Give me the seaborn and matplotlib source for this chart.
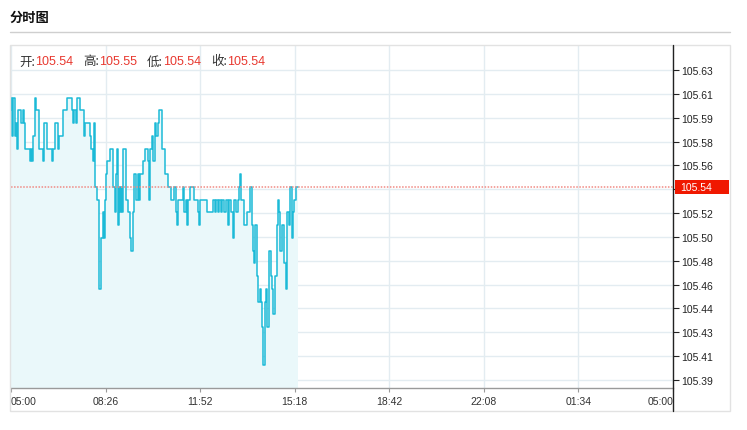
import matplotlib
matplotlib.use('Agg')
import numpy as np
import pandas as pd
import matplotlib.pyplot as plt
import seaborn as sns
from matplotlib.patches import Rectangle
from matplotlib.lines import Line2D

# ── data ─────────────────────────────────────────────────────
# minutes after 05:00, last price
minutes = [0, 1, 3, 5, 8, 9, 11, 13, 15, 16, 22, 26, 28, 30, 41, 43, 46, 48, 52, 54,
           61, 70, 72, 78, 89, 91, 96, 102, 104, 113, 122, 133, 135, 137, 141, 144, 150,
           159, 161, 172, 174, 178, 181, 183, 187, 191, 196, 200, 202, 204, 207, 209,
           215, 222, 226, 228, 231, 233, 235, 237, 239, 241, 244, 250, 254, 259, 261,
           265, 268, 272, 276, 278, 281, 287, 291, 298, 300, 302, 307, 309, 313, 315,
           320, 322, 328, 335, 341, 348, 354, 359, 361, 363, 374, 376, 381, 383, 385,
           389, 398, 407, 409, 411, 426, 439, 444, 446, 450, 452, 457, 459, 463, 467,
           472, 474, 479, 483, 485, 489, 494, 496, 498, 500, 507, 513, 520, 524, 526,
           529, 531, 535, 537, 542, 544, 546, 548, 553, 555, 557, 561, 566, 568, 570,
           574, 579, 581, 583, 585, 590, 594, 598, 600, 605, 607, 611, 613, 616, 620, 624]
prices = [105.60, 105.61, 105.58, 105.61, 105.59, 105.58, 105.59, 105.57, 105.59, 105.60,
          105.59, 105.60, 105.59, 105.57, 105.56, 105.57, 105.56, 105.58, 105.61, 105.60,
          105.57, 105.56, 105.59, 105.57, 105.56, 105.57, 105.59, 105.57, 105.58, 105.60,
          105.61, 105.60, 105.59, 105.60, 105.59, 105.61, 105.60, 105.58, 105.59, 105.58,
          105.57, 105.56, 105.59, 105.54, 105.53, 105.46, 105.50, 105.52, 105.50, 105.53,
          105.55, 105.56, 105.57, 105.54, 105.52, 105.55, 105.57, 105.51, 105.54, 105.52,
          105.54, 105.52, 105.57, 105.53, 105.52, 105.50, 105.49, 105.52, 105.55, 105.53,
          105.55, 105.53, 105.55, 105.56, 105.57, 105.56, 105.53, 105.57, 105.58, 105.56,
          105.59, 105.58, 105.59, 105.60, 105.57, 105.55, 105.54, 105.53, 105.54, 105.52,
          105.51, 105.53, 105.54, 105.52, 105.53, 105.51, 105.53, 105.54, 105.53, 105.52,
          105.51, 105.53, 105.52, 105.53, 105.52, 105.53, 105.52, 105.53, 105.52, 105.53,
          105.52, 105.53, 105.51, 105.53, 105.52, 105.50, 105.53, 105.52, 105.53, 105.54,
          105.55, 105.53, 105.51, 105.52, 105.54, 105.51, 105.49, 105.48, 105.51, 105.47,
          105.45, 105.46, 105.45, 105.43, 105.40, 105.45, 105.46, 105.43, 105.49, 105.47,
          105.46, 105.44, 105.47, 105.51, 105.53, 105.52, 105.49, 105.51, 105.48, 105.46,
          105.52, 105.51, 105.54, 105.50, 105.52, 105.53, 105.54, 105.54]

last_price = 105.54
ohlc_names = ['开:', '高:', '低:', '收:']
ohlc_values = ['105.54', '105.55', '105.54', '105.54']

x_labels = ['05:00', '08:26', '11:52', '15:18', '18:42', '22:08', '01:34', '05:00']
y_tick_values = [105.3885, 105.4072, 105.4259, 105.4446, 105.4633, 105.4820, 105.5007,
                 105.5194, 105.5381, 105.5568, 105.5755, 105.5942, 105.6129, 105.6316]
y_labels = ['105.39', '105.41', '105.43', '105.44', '105.46', '105.48', '105.50',
            '105.52', '105.54', '105.56', '105.58', '105.59', '105.61', '105.63']

df = pd.DataFrame({'minute': minutes, 'price': prices})

# ── style ────────────────────────────────────────────────────
sns.set_style('white')
plt.rcParams['font.family'] = ['Liberation Sans', 'Noto Sans CJK SC']

W, H = 747, 431
fig = plt.figure(figsize=(W / 100, H / 100), dpi=100)
fig.patch.set_facecolor('white')

def fx(px):
    return px / W

def fy(py):
    return 1 - py / H

# header
fig.text(fx(10), fy(18), '分时图', fontsize=9.5, fontweight='bold', va='center',
         ha='left', family=['Noto Sans CJK SC'], color='#111111')
fig.add_artist(Line2D([fx(10), fx(730)], [fy(33), fy(33)], color='#cfcfcf', lw=1))

# outer frame
fig.add_artist(Rectangle((fx(10), fy(412)), fx(720), (412 - 46) / H,
                         fill=False, edgecolor='#e2e2e2', lw=1))

ymin, ymax = 105.3822, 105.6512
ax = fig.add_axes([fx(11), fy(389), fx(662), (389 - 46) / H])
ax.set_facecolor('none')

ax.fill_between(df['minute'], df['price'], ymin, step='post',
                color='#eaf8fa', lw=0)
sns.lineplot(data=df, x='minute', y='price', ax=ax, color='#1cbad7',
             lw=1.1, drawstyle='steps-post')
ax.axhline(last_price, color='#f08a84', ls=(0, (1, 1)), lw=1.1)

ax.set_xlim(0, 1440)
ax.set_ylim(ymin, ymax)

x_ticks = [i * 1440 / 7 for i in range(len(x_labels))]
ax.set_xticks(x_ticks)
ax.set_xticklabels(x_labels)
ax.set_yticks(y_tick_values)
ax.set_yticklabels(y_labels)
ax.yaxis.tick_right()
ax.grid(True, color='#e3ecf1', lw=1)
ax.set_axisbelow(True)
ax.set_xlabel('')
ax.set_ylabel('')

for s in ['left', 'top', 'right']:
    ax.spines[s].set_visible(False)
ax.spines['bottom'].set_color('#9a9a9a')
ax.spines['bottom'].set_linewidth(1)

ax.tick_params(axis='y', which='both', right=True, length=4, width=0.8,
               color='#222222', labelsize=7.5, labelcolor='#222222', pad=2)
ax.tick_params(axis='x', bottom=True, length=3, width=0.8, color='#9a9a9a',
               labelsize=7.5, labelcolor='#333333', pad=3)
xt = ax.get_xticklabels()
xt[0].set_ha('left')
xt[-1].set_ha('right')

# the tick label under the price tag is covered in the original
for lab, val in zip(ax.get_yticklabels(), y_labels):
    if val == f'{last_price:.2f}':
        lab.set_visible(False)

# right axis line reaching the frame bottom
fig.add_artist(Line2D([fx(673), fx(673)], [fy(46), fy(412)], color='#222222', lw=1))

# current price tag
fig.canvas.draw()
py = ax.transData.transform((0, last_price))[1]
tag_y = py / fig.bbox.height
fig.add_artist(Rectangle((fx(675), tag_y - 7 / H), fx(54), 14 / H,
                         facecolor='#f01800', edgecolor='none'))
fig.text(fx(680), tag_y, f'{last_price:.2f}', color='white', fontsize=7.5,
         va='center', ha='left')

# OHLC line
x_pos = [19, 83, 147, 211]
for xp, name, val in zip(x_pos, ohlc_names, ohlc_values):
    fig.text(fx(xp), fy(62), name, fontsize=9, va='center', ha='left',
             color='#333333', family=['Noto Sans CJK SC'])
    fig.text(fx(xp + 16), fy(62), val, fontsize=9, va='center', ha='left',
             color='#e8382f')

plt.savefig('out.png', dpi=100)
plt.close()
